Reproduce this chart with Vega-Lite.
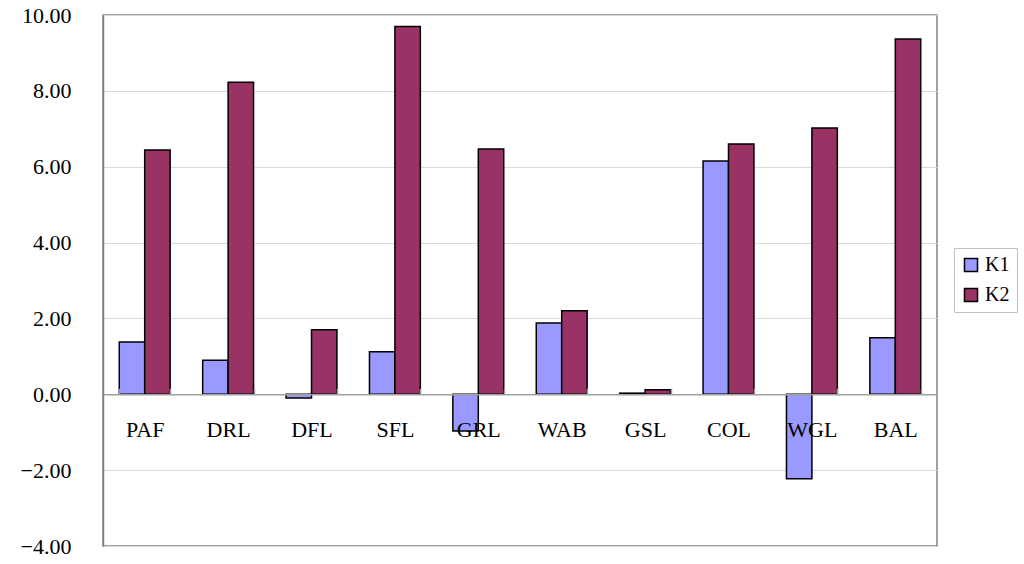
{
  "$schema": "https://vega.github.io/schema/vega-lite/v6.json",
  "autosize": "none",
  "width": 834,
  "height": 531,
  "padding": {"left": 103, "top": 15, "right": 87, "bottom": 18},
  "background": "white",
  "config": {
    "view": {"stroke": "#808080", "strokeWidth": 1.5},
    "font": "Liberation Serif"
  },
  "data": {
    "values": [
      {"site": "PAF", "series": "K1", "value": 1.38},
      {"site": "PAF", "series": "K2", "value": 6.44},
      {"site": "DRL", "series": "K1", "value": 0.90},
      {"site": "DRL", "series": "K2", "value": 8.23},
      {"site": "DFL", "series": "K1", "value": -0.10},
      {"site": "DFL", "series": "K2", "value": 1.70},
      {"site": "SFL", "series": "K1", "value": 1.12},
      {"site": "SFL", "series": "K2", "value": 9.70},
      {"site": "GRL", "series": "K1", "value": -0.97},
      {"site": "GRL", "series": "K2", "value": 6.47},
      {"site": "WAB", "series": "K1", "value": 1.88},
      {"site": "WAB", "series": "K2", "value": 2.20},
      {"site": "GSL", "series": "K1", "value": 0.03},
      {"site": "GSL", "series": "K2", "value": 0.12},
      {"site": "COL", "series": "K1", "value": 6.15},
      {"site": "COL", "series": "K2", "value": 6.60},
      {"site": "WGL", "series": "K1", "value": -2.23},
      {"site": "WGL", "series": "K2", "value": 7.02},
      {"site": "BAL", "series": "K1", "value": 1.49},
      {"site": "BAL", "series": "K2", "value": 9.37}
    ]
  },
  "mark": {"type": "bar", "stroke": "black", "strokeWidth": 1.5},
  "encoding": {
    "x": {
      "field": "site",
      "type": "nominal",
      "sort": null,
      "scale": {"paddingInner": 0.39, "paddingOuter": 0.195},
      "axis": {
        "title": null,
        "labelAngle": 0,
        "labelFontSize": 22,
        "labelColor": "black",
        "labelPadding": 31,
        "offset": -151.7,
        "domainColor": "#a0a0a0",
        "domainWidth": 1.5,
        "tickBand": "extent",
        "tickSize": -6,
        "tickColor": "#a0a0a0",
        "tickWidth": 1.5,
        "zindex": 1
      }
    },
    "xOffset": {"field": "series", "type": "nominal", "scale": {"paddingInner": 0, "paddingOuter": 0}},
    "y": {
      "field": "value",
      "type": "quantitative",
      "scale": {"domain": [-4, 10], "nice": false, "zero": false},
      "axis": {
        "title": null,
        "values": [-4, -2, 0, 2, 4, 6, 8, 10],
        "format": ".2f",
        "labelFontSize": 22,
        "labelColor": "black",
        "labelPadding": 32,
        "ticks": false,
        "domainColor": "#808080",
        "domainWidth": 1.5,
        "gridColor": "#d9d9d9",
        "gridWidth": 1.2,
        "labelFlush": false
      }
    },
    "color": {
      "field": "series",
      "type": "nominal",
      "scale": {"domain": ["K1", "K2"], "range": ["#9999FF", "#993366"]},
      "legend": {
        "title": null,
        "orient": "none",
        "legendX": 851,
        "legendY": 233,
        "strokeColor": "#c0c0c0",
        "padding": 7,
        "symbolType": "square",
        "symbolSize": 170,
        "symbolStrokeColor": "black",
        "symbolStrokeWidth": 1.5,
        "labelFontSize": 20,
        "labelColor": "black",
        "rowPadding": 10,
        "labelOffset": 4
      }
    }
  }
}
